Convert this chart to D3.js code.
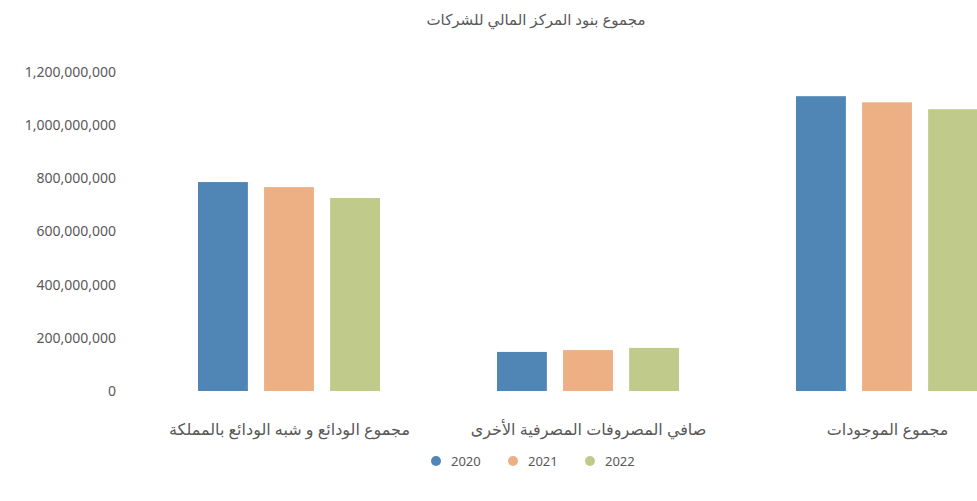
<!DOCTYPE html>
<html><head><meta charset="utf-8">
<script src="https://cdn.jsdelivr.net/npm/d3@7/dist/d3.min.js"></script>
<style>
html,body{margin:0;padding:0;background:#fff;overflow:hidden;}
svg{display:block;font-family:"Noto Sans","DejaVu Sans",sans-serif;}
</style></head>
<body>
<script>
const title = "مجموع بنود المركز المالي للشركات";
const categories = ["مجموع الودائع و شبه الودائع بالمملكة", "صافي المصروفات المصرفية الأخرى", "مجموع الموجودات"];
const seriesNames = ["2020", "2021", "2022"];
const series1 = [786000000, 147000000, 1109000000];
const series2 = [767000000, 154000000, 1086000000];
const series3 = [726000000, 162000000, 1060000000];
const yTicks = [0, 200000000, 400000000, 600000000, 800000000, 1000000000, 1200000000];
const colors = ["#4f86b6", "#ecb084", "#c0cb8b"];

const W = 977, H = 501;
const svg = d3.select("body").append("svg").attr("width", W).attr("height", H);

const x = d3.scaleBand().domain(categories).range([140, 1037]).paddingInner(0).paddingOuter(0);
const y = d3.scaleLinear().domain([0, 1200000000]).range([391, 72]);
const values = [series1, series2, series3];
const inner = d3.scaleBand().domain(d3.range(3)).range([58, 240]).paddingInner(0.245).paddingOuter(0);

svg.append("text").attr("x", 536).attr("y", 25).attr("text-anchor", "middle")
  .attr("fill", "#595959").attr("font-size", 15).text(title);

const yAxis = d3.axisLeft(y).tickValues(yTicks).tickSize(0).tickPadding(0).tickFormat(d3.format(","));
const ya = svg.append("g").attr("transform", "translate(116,0)").call(yAxis);
ya.select(".domain").remove();
ya.selectAll("text").attr("fill", "#595959").attr("font-size", 14).attr("font-family", "Noto Sans, DejaVu Sans, sans-serif");

values.forEach((vals, si) => {
  svg.append("g").selectAll("rect").data(categories).join("rect")
    .attr("x", (c) => x(c) + inner(si))
    .attr("width", inner.bandwidth())
    .attr("y", (c, i) => y(vals[i]))
    .attr("height", (c, i) => y(0) - y(vals[i]))
    .attr("fill", colors[si]);
});

const xAxis = d3.axisBottom(x).tickSize(0).tickPadding(0);
const xa = svg.append("g").attr("transform", "translate(0,424)").call(xAxis);
xa.select(".domain").remove();
xa.selectAll("text").attr("fill", "#595959").attr("font-size", 16).attr("font-family", "Noto Sans, DejaVu Sans, sans-serif").attr("direction", "rtl").attr("text-anchor", "middle");

const legendX = [436, 513, 590];
const lg = svg.append("g");
seriesNames.forEach((n, i) => {
  lg.append("circle").attr("cx", legendX[i]).attr("cy", 461).attr("r", 5).attr("fill", colors[i]);
  lg.append("text").attr("x", legendX[i] + 15).attr("y", 466).attr("fill", "#595959").attr("font-size", 13).text(n);
});
</script>
</body></html>
